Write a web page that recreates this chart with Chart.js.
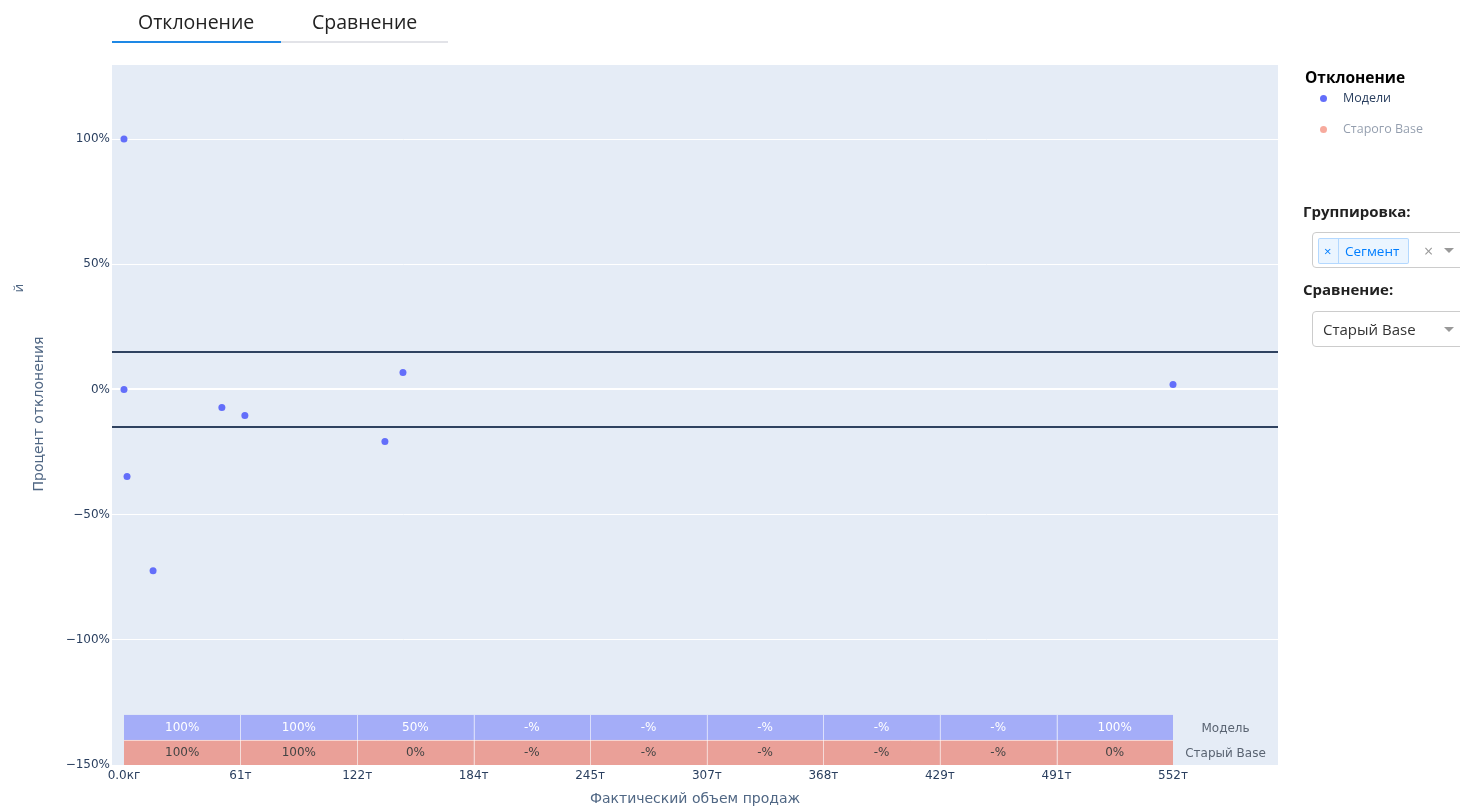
<!DOCTYPE html>
<html><head><meta charset="utf-8">
<script src="https://cdn.jsdelivr.net/npm/chart.js@4.4.0/dist/chart.umd.min.js"></script>
<style>
body{margin:0;width:1460px;height:806px;overflow:hidden;background:#fff;font-family:"Open Sans",sans-serif;position:relative}
#wrap{position:absolute;left:0;top:0;width:1460px;height:806px}
.abs{position:absolute;white-space:nowrap}
.tab{font-size:19.5px;color:#222;top:8px}
.ytitle{left:38px;top:414px;transform:translate(-50%,-50%) rotate(-90deg);font-size:14px;color:#506784;font-family:"DejaVu Sans",sans-serif}
.xtitle{left:695px;top:798px;transform:translate(-50%,-50%);font-size:14px;color:#506784;font-family:"DejaVu Sans",sans-serif}
.lg{font-size:12.5px}
.dot{position:absolute;width:7px;height:7px;border-radius:50%}
.lbl{font-weight:bold;font-size:15px;color:#222}
.box{position:absolute;left:1312px;width:160px;height:34px;border:1px solid #ccc;border-radius:4px;background:#fff}
</style></head>
<body>
<div id="wrap"><canvas id="c" width="1460" height="806"></canvas></div>

<div class="abs tab" style="left:138px">Отклонение</div>
<div class="abs tab" style="left:312px">Сравнение</div>
<div class="abs" style="left:112px;top:41px;width:169px;height:2px;background:#1e88e5"></div>
<div class="abs" style="left:281px;top:41px;width:167px;height:2px;background:#e2e3e8"></div>

<div class="abs ytitle">Процент отклонения</div>
<div class="abs" style="left:18px;top:288px;transform:translate(-50%,-50%) rotate(-90deg);font-size:13px;color:#506784">й</div>
<div class="abs xtitle">Фактический объем продаж</div>

<div class="abs" style="left:1305px;top:66px;font-weight:bold;font-size:15.5px;color:#000">Отклонение</div>
<div class="dot" style="left:1320px;top:95px;background:#636efa"></div>
<div class="abs lg" style="left:1343px;top:89px;color:#2a3f5f">Модели</div>
<div class="dot" style="left:1320px;top:126px;background:#ef553b;opacity:0.5"></div>
<div class="abs lg" style="left:1343px;top:120px;color:#2a3f5f;opacity:0.5">Старого Base</div>

<div class="abs lbl" style="left:1303px;top:201px">Группировка:</div>
<div class="box" style="top:232px"></div>
<div class="abs" style="left:1318px;top:238px;width:89px;height:24px;border:1px solid rgba(0,126,255,0.24);background:rgba(0,126,255,0.08);border-radius:2px"></div>
<div class="abs" style="left:1324px;top:242px;font-size:13px;color:#007eff">×</div>
<div class="abs" style="left:1338px;top:239px;width:1px;height:24px;background:rgba(0,126,255,0.24)"></div>
<div class="abs" style="left:1345px;top:242px;font-size:13.5px;color:#007eff">Сегмент</div>
<div class="abs" style="left:1424px;top:240px;font-size:16px;color:#999">×</div>
<div class="abs" style="left:1444px;top:248px;width:0;height:0;border-left:5px solid transparent;border-right:5px solid transparent;border-top:5px solid #999"></div>

<div class="abs lbl" style="left:1303px;top:279px">Сравнение:</div>
<div class="box" style="top:311px"></div>
<div class="abs" style="left:1323px;top:319px;font-size:15px;color:#333">Старый Base</div>
<div class="abs" style="left:1444px;top:327px;width:0;height:0;border-left:5px solid transparent;border-right:5px solid transparent;border-top:5px solid #999"></div>

<script>
// Фактический объем продаж, тонн
const salesVolume = [0, 0, 1.6, 15.3, 51.5, 63.6, 137.3, 146.8, 552];
// Процент отклонения модели
const modelDeviation = [100, 0, -34.8, -72.4, -7.2, -10.4, -20.8, 6.8, 2];
const xTickValues = [0, 61.3, 122.7, 184, 245.3, 306.7, 368, 429.3, 490.7, 552];
const xTickLabels = ["0.0кг","61т","122т","184т","245т","307т","368т","429т","491т","552т"];
const yTickValues = [-150, -100, -50, 0, 50, 100];
const thresholds = [15, -15];
const tableRowLabels = ["Модель", "Старый Base"];
const modelRow = ["100%","100%","50%","-%","-%","-%","-%","-%","100%"];
const baseRow = ["100%","100%","0%","-%","-%","-%","-%","-%","0%"];
const tableRowBands = [[-130, -140], [-140, -150]];

const points = salesVolume.map((x, i) => ({x, y: modelDeviation[i]}));
const FONT = '"DejaVu Sans"';

const plotPlugin = {
  id: 'plotExtras',
  beforeDraw(chart) {
    const {ctx, chartArea: a} = chart;
    ctx.save();
    ctx.fillStyle = '#e5ecf6';
    ctx.fillRect(a.left, a.top, a.right - a.left, a.bottom - a.top);
    ctx.restore();
  },
  afterDatasetsDraw(chart) {
    const {ctx, chartArea: a, scales: {x, y}} = chart;
    ctx.save();
    ctx.strokeStyle = '#2f4260';
    ctx.lineWidth = 2;
    thresholds.forEach(t => {
      const py = Math.round(y.getPixelForValue(t));
      ctx.beginPath(); ctx.moveTo(a.left, py); ctx.lineTo(a.right, py); ctx.stroke();
    });
    const rows = [modelRow, baseRow];
    const fills = ['#a4adf8', '#eaa098'];
    const textCols = ['#ffffff', '#444444'];
    ctx.font = '12px ' + FONT;
    ctx.textAlign = 'center';
    ctx.textBaseline = 'middle';
    rows.forEach((row, r) => {
      const y0 = y.getPixelForValue(tableRowBands[r][0]);
      const y1 = y.getPixelForValue(tableRowBands[r][1]);
      row.forEach((txt, i) => {
        const x0 = x.getPixelForValue(xTickValues[i]);
        const x1 = x.getPixelForValue(xTickValues[i + 1]);
        ctx.fillStyle = fills[r];
        ctx.fillRect(x0, y0, x1 - x0, y1 - y0);
        ctx.fillStyle = textCols[r];
        ctx.fillText(txt, (x0 + x1) / 2, (y0 + y1) / 2);
      });
      ctx.strokeStyle = 'rgba(255,255,255,0.55)';
      ctx.lineWidth = 1;
      row.forEach((txt, i) => {
        if (i === 0) return;
        const xp = Math.round(x.getPixelForValue(xTickValues[i])) + 0.5;
        ctx.beginPath(); ctx.moveTo(xp, y0); ctx.lineTo(xp, y1); ctx.stroke();
      });
      const lx = (x.getPixelForValue(xTickValues[xTickValues.length - 1]) + a.right) / 2;
      ctx.fillStyle = '#5a6472';
      ctx.fillText(tableRowLabels[r], lx, (y0 + y1) / 2 + 1);
    });
    const yb = Math.round(y.getPixelForValue(tableRowBands[0][1])) + 0.5;
    ctx.strokeStyle = 'rgba(255,255,255,0.55)';
    ctx.beginPath();
    ctx.moveTo(x.getPixelForValue(xTickValues[0]), yb);
    ctx.lineTo(x.getPixelForValue(xTickValues[xTickValues.length - 1]), yb);
    ctx.stroke();
    ctx.restore();
  }
};

new Chart(document.getElementById('c'), {
  type: 'scatter',
  data: {
    datasets: [
      { label: 'Модели', data: points, backgroundColor: '#636efa', borderColor: '#636efa', pointRadius: 3.5, borderWidth: 0 },
      { label: 'Старого Base', data: [], backgroundColor: '#ef553b', hidden: true }
    ]
  },
  options: {
    responsive: false,
    animation: false,
    events: [],
    layout: { padding: { left: 0, top: 65, right: 182, bottom: 0 } },
    plugins: { legend: { display: false }, tooltip: { enabled: false } },
    scales: {
      x: {
        type: 'linear', min: -6.31, max: 607.25,
        grid: { display: false },
        border: { display: false },
        afterBuildTicks(s) { s.ticks = xTickValues.map(v => ({value: v})); },
        afterFit(s) { s.height = 41; },
        ticks: {
          autoSkip: false, maxRotation: 0, padding: -4,
          color: '#2a3f5f', font: { family: 'DejaVu Sans', size: 12 },
          callback: (v, i) => xTickLabels[i]
        }
      },
      y: {
        type: 'linear', min: -150, max: 129.6,
        afterBuildTicks(s) { s.ticks = yTickValues.map(v => ({value: v})); },
        afterFit(s) { s.width = 112; },
        border: { display: false },
        grid: {
          drawTicks: false,
          color: '#ffffff',
          lineWidth: c => (c.tick && c.tick.value === 0) ? 2 : 1
        },
        ticks: {
          padding: 2,
          color: '#2a3f5f', font: { family: 'DejaVu Sans', size: 12 },
          callback: v => (v < 0 ? '\u2212' + Math.abs(v) : v) + '%'
        }
      }
    }
  },
  plugins: [plotPlugin]
});
</script>
</body></html>
